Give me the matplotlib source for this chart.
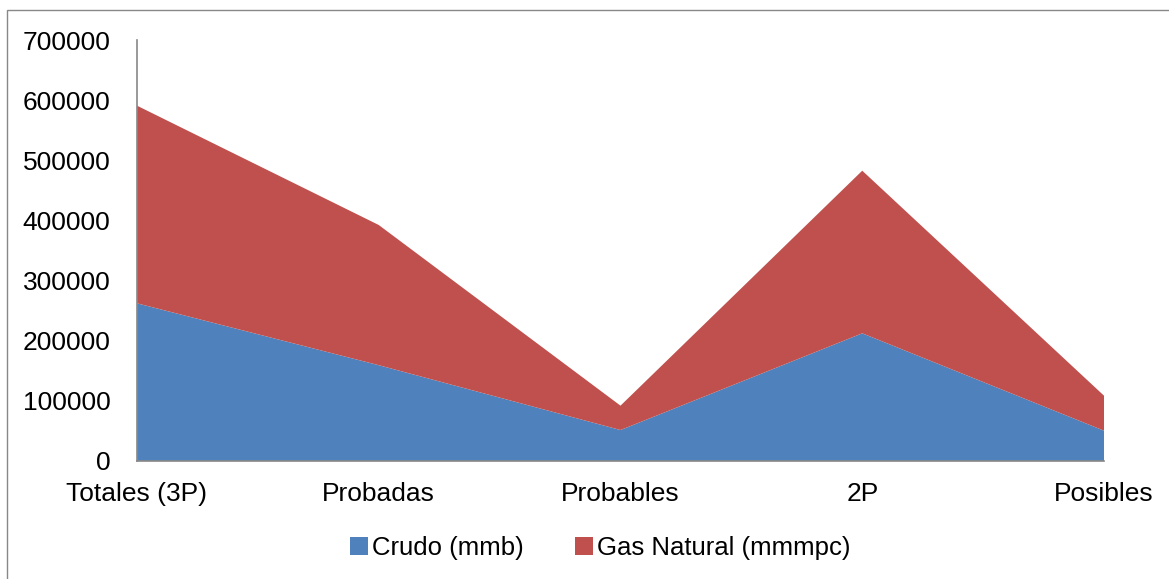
import matplotlib.pyplot as plt
from matplotlib.patches import Rectangle

plt.rcParams['font.family'] = ['Liberation Sans', 'DejaVu Sans']

categorias = ['Totales (3P)', 'Probadas', 'Probables', '2P', 'Posibles']
crudo = [262200, 159300, 51500, 212300, 50400]
gas_natural = [328600, 233100, 40500, 270400, 58200]

fig = plt.figure(figsize=(11.69, 5.79), dpi=100)
ax = fig.add_axes([137 / 1169, 1 - 461 / 579, (1104 - 137) / 1169, (461 - 40) / 579])

x = list(range(len(categorias)))
ax.stackplot(x, crudo, gas_natural, colors=['#4F81BD', '#C0504D'],
             labels=['Crudo (mmb)', 'Gas Natural (mmmpc)'])

ax.set_xlim(0, len(categorias) - 1)
ax.set_ylim(0, 700000)
ax.set_yticks(range(0, 700001, 100000))
ax.set_xticks(x)
ax.set_xticklabels(categorias)
ax.tick_params(axis='both', length=0, labelsize=19)
ax.tick_params(axis='y', pad=19)
ax.tick_params(axis='x', pad=15)

for s in ['top', 'right']:
    ax.spines[s].set_visible(False)
for s in ['left', 'bottom']:
    ax.spines[s].set_color('#888888')
    ax.spines[s].set_linewidth(1.2)

ax.legend(loc='center', bbox_to_anchor=(600 / 1169, 1 - 548 / 579),
          bbox_transform=fig.transFigure, ncol=2, frameon=False,
          fontsize=18.5, handlelength=0.7, handleheight=0.7,
          handletextpad=0.15, columnspacing=2.0)

# marco exterior
fig.patches.append(Rectangle((7 / 1169, -0.01), 1.1, 1 - 10 / 579 + 0.01,
                             transform=fig.transFigure, fill=False,
                             edgecolor='#888888', linewidth=1.0))

plt.savefig('out.png', dpi=100)
